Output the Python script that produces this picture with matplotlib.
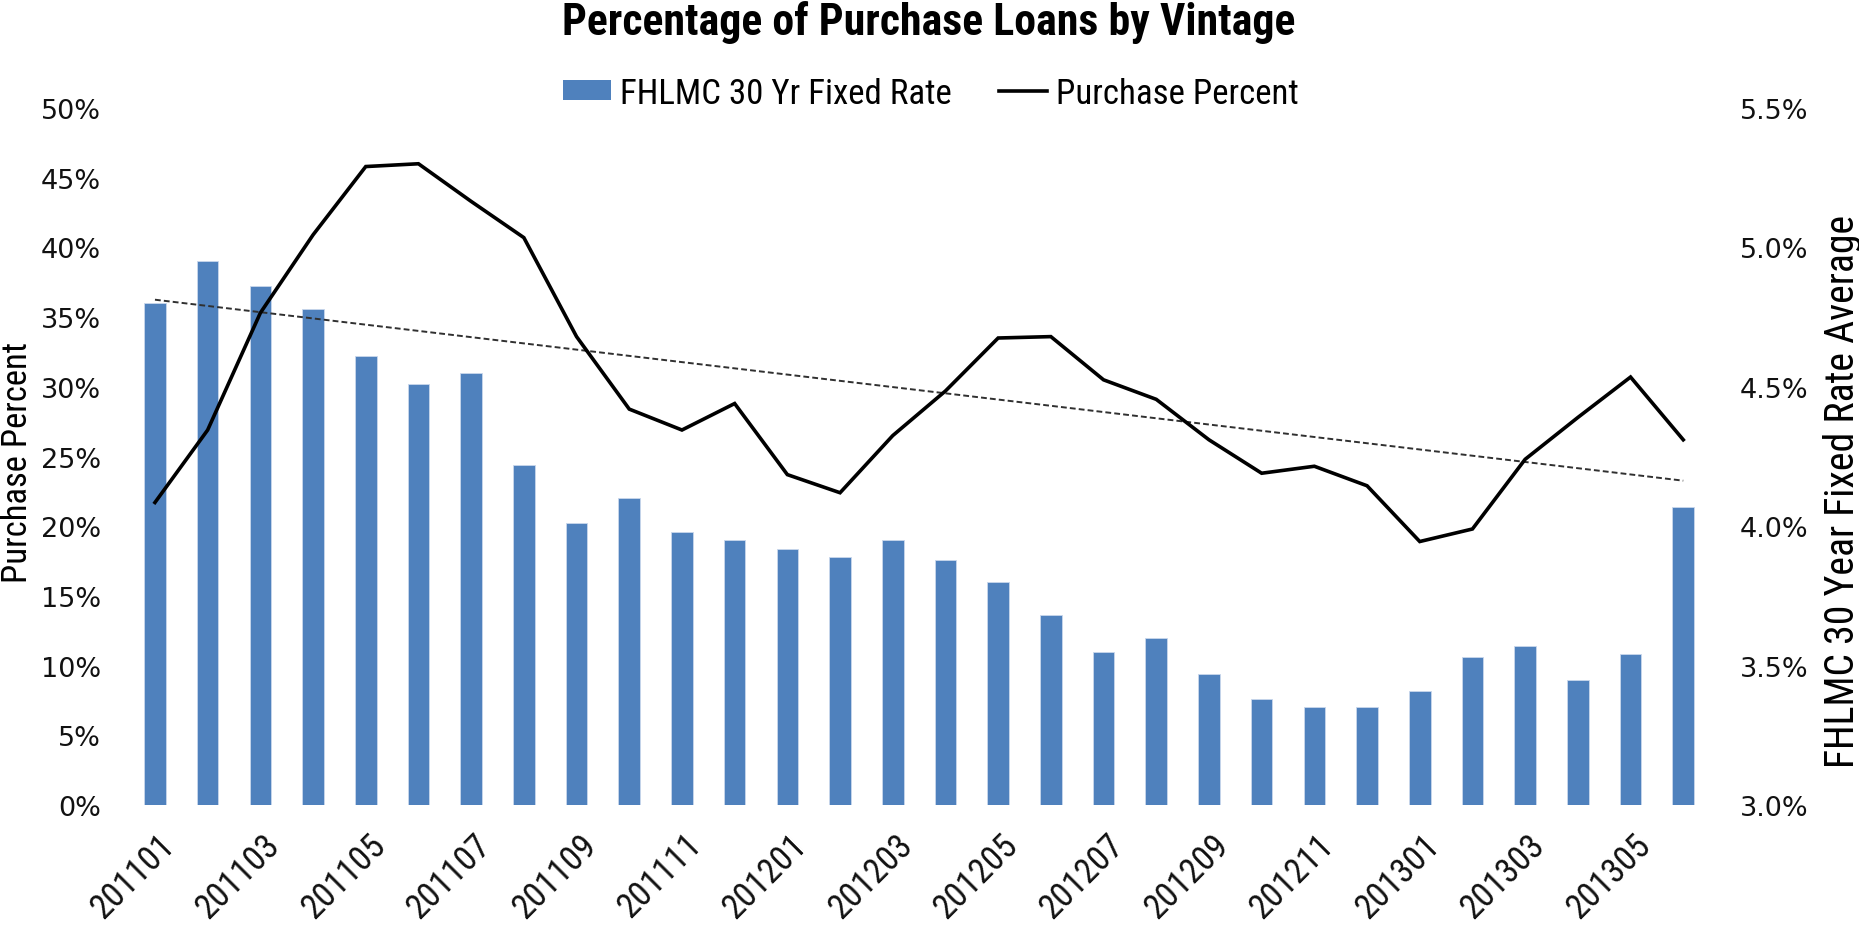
import numpy as np
import matplotlib
matplotlib.use("Agg")
import matplotlib.pyplot as plt
import matplotlib.transforms as mtransforms
from matplotlib import font_manager as fm
from matplotlib.font_manager import FontProperties
from matplotlib.textpath import TextPath
from matplotlib.patches import Patch
from matplotlib.lines import Line2D
from matplotlib.ticker import FuncFormatter, MultipleLocator

# ---- data -------------------------------------------------------------
vintages = ["201101", "201102", "201103", "201104", "201105", "201106",
            "201107", "201108", "201109", "201110", "201111", "201112",
            "201201", "201202", "201203", "201204", "201205", "201206",
            "201207", "201208", "201209", "201210", "201211", "201212",
            "201301", "201302", "201303", "201304", "201305", "201306"]

fixed_rate = [4.80, 4.95, 4.86, 4.78, 4.61, 4.51, 4.55, 4.22, 4.01, 4.10,
              3.98, 3.95, 3.92, 3.89, 3.95, 3.88, 3.80, 3.68, 3.55, 3.60,
              3.47, 3.38, 3.35, 3.35, 3.41, 3.53, 3.57, 3.45, 3.54, 4.07]

purchase_pct = [21.7, 26.9, 35.3, 40.9, 45.8, 46.0, 43.3, 40.7, 33.6, 28.4,
                26.9, 28.8, 23.7, 22.4, 26.5, 29.7, 33.5, 33.6, 30.5, 29.1,
                26.2, 23.8, 24.3, 22.9, 18.9, 19.8, 24.8, 27.8, 30.7, 26.2]

title = "Percentage of Purchase Loans by Vintage"
bar_label = "FHLMC 30 Yr Fixed Rate"
line_label = "Purchase Percent"
left_title = "Purchase Percent"
right_title = "FHLMC 30 Year Fixed Rate Average"

# ---- fonts ------------------------------------------------------------
DPI = 100
W, H = 1859, 929
installed = {f.name for f in fm.fontManager.ttflist}
narrow = next((n for n in ["Liberation Sans Narrow", "Roboto Condensed",
                           "Open Sans Condensed", "Lato", "Roboto"]
               if n in installed), "DejaVu Sans")
tick_font = "DejaVu Sans"


def size_for(text, width_px, family, weight="normal"):
    """Font size (pt) whose inked width equals width_px."""
    fp = FontProperties(family=family, weight=weight)
    w = TextPath((0, 0), text, size=10, prop=fp).get_extents().width
    return 10 * (width_px * 72 / DPI) / w


BAR_COLOR = "#4F81BD"
TEXT_COLOR = "#111111"

fig = plt.figure(figsize=(W / DPI, H / DPI), dpi=DPI)
ax = fig.add_axes([128.6 / W, 1 - 806 / H, (1709.6 - 128.6) / W, (806 - 109) / H])
ax_r = ax.twinx()
ax_r.set_zorder(ax.get_zorder() - 1)
ax.patch.set_visible(False)

x = np.arange(len(vintages))

# bars: 30-year fixed rate on the right-hand scale
ax_r.bar(x, fixed_rate, width=0.41, bottom=0, color=BAR_COLOR,
         edgecolor="#C9D7EC", linewidth=0.6)
ax_r.set_ylim(3.0, 5.5)

# purchase share line plus its linear trend
ax.plot(x, purchase_pct, color="black", lw=2.6, solid_joinstyle="miter", zorder=3)
slope, intercept = np.polyfit(x, purchase_pct, 1)
ax.plot(x, slope * x + intercept, color="#303030", lw=1.4,
        linestyle=(0, (3.0, 1.6)), zorder=2)
ax.set_ylim(0, 50)
ax.set_xlim(-0.5, len(vintages) - 0.5)

for a in (ax, ax_r):
    for s in a.spines.values():
        s.set_visible(False)

ax.yaxis.set_major_locator(MultipleLocator(5))
ax.yaxis.set_major_formatter(FuncFormatter(lambda v, p: f"{v:.0f}%"))
ax_r.yaxis.set_major_locator(MultipleLocator(0.5))
ax_r.yaxis.set_major_formatter(FuncFormatter(lambda v, p: f"{v:.1f}%"))
ax.tick_params(axis="y", length=0, pad=20, labelsize=19.5, labelcolor=TEXT_COLOR)
ax_r.tick_params(axis="y", length=0, pad=22, labelsize=19.5, labelcolor=TEXT_COLOR)
for lab in ax.get_yticklabels() + ax_r.get_yticklabels():
    lab.set_family(tick_font)

# category labels: every other vintage, rotated 45 degrees
ax.set_xticks(x[::2])
xt_size = size_for("201101", 95, narrow)
ax.set_xticklabels([vintages[i] for i in x[::2]], rotation=45, ha="right",
                   va="top", rotation_mode="anchor", fontsize=xt_size,
                   family=narrow, color=TEXT_COLOR)
ax.tick_params(axis="x", length=0, pad=16)
shift = mtransforms.ScaledTranslation(3 / DPI, 0, fig.dpi_scale_trans)
for lab in ax.get_xticklabels():
    lab.set_transform(lab.get_transform() + shift)

# title and axis titles
fig.text(929 / W, 1 - 22 / H, title, ha="center", va="center",
         fontsize=size_for(title, 730, narrow, "bold"), fontweight="bold",
         family=narrow, color="black")
fig.text(18 / W, 1 - 462 / H, left_title, rotation=90, ha="center", va="center",
         fontsize=size_for(left_title, 237, narrow), family=narrow, color="black")
fig.text(1842 / W, 1 - 491 / H, right_title, rotation=90, ha="center", va="center",
         fontsize=size_for(right_title, 548, narrow), family=narrow, color="black")

# legend across the top
leg_size = size_for(bar_label, 328, narrow)
handles = [Patch(facecolor=BAR_COLOR, edgecolor="none"),
           Line2D([], [], color="black", lw=2.6)]
fig.legend(handles, [bar_label, line_label], loc="center",
           bbox_to_anchor=(931 / W, 1 - 94 / H), ncol=2, frameon=False,
           prop=FontProperties(family=narrow, size=leg_size),
           handlelength=1.38, handleheight=0.5, handletextpad=0.25,
           columnspacing=1.35, borderpad=0, borderaxespad=0)

fig.savefig("out.png", dpi=DPI)
